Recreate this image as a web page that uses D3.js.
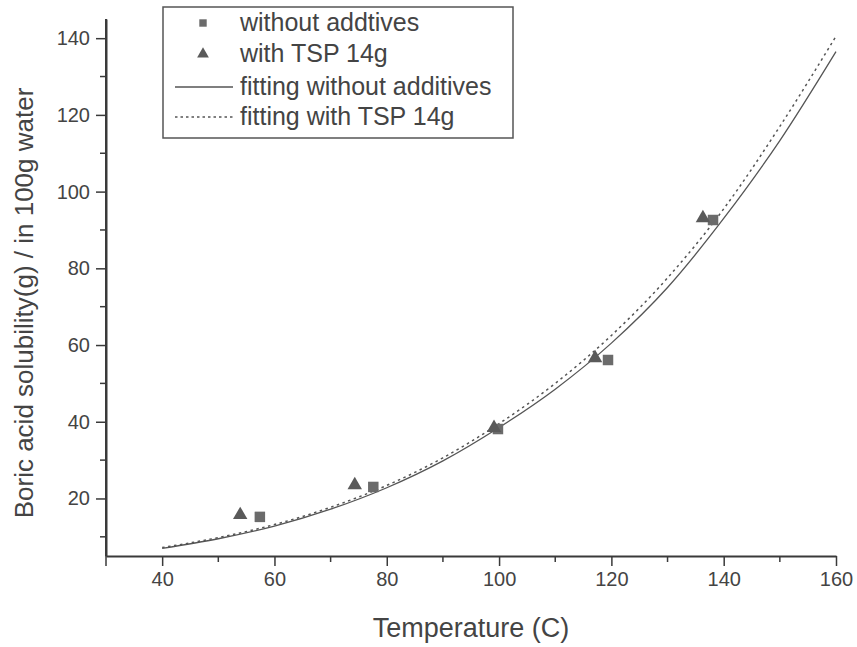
<!DOCTYPE html>
<html>
<head>
<meta charset="utf-8">
<script src="https://cdn.jsdelivr.net/npm/d3@7"></script>
<style>
  body { margin: 0; background: #fff; }
  svg { font-family: "Liberation Sans", Arial, sans-serif; }
</style>
</head>
<body>
<script>
// ----- data -----
const tempNoAdd = [57.4, 77.6, 99.8, 119.4, 138.1];
const solNoAdd = [15.2, 23.0, 38.1, 56.1, 92.6];

const tempTSP = [53.9, 74.3, 99.1, 117.1, 136.3];
const solTSP = [15.7, 23.5, 38.4, 56.6, 93.1];

// fitted curves, sampled every 10 C
const fitTemps = [40, 50, 60, 70, 80, 90, 100, 110, 120, 130, 140, 150, 160];
const fitNoAdd = [7.0, 9.5, 12.8, 17.2, 22.8, 29.8, 38.5, 48.5, 60.5, 75.0, 93.0, 113.3, 136.5];
const fitTSP = [7.2, 9.8, 13.2, 17.7, 23.4, 30.6, 39.5, 50.0, 62.5, 77.5, 95.5, 117.0, 140.5];

const xTicks = [40, 60, 80, 100, 120, 140, 160];
const yTicks = [20, 40, 60, 80, 100, 120, 140];

const legendLabels = ['without addtives', 'with TSP 14g', 'fitting without additives', 'fitting with TSP 14g'];

//  ----- svg -----
const W = 857, H = 647;
const svg = d3.select('body').append('svg')
  .attr('width', W)
  .attr('height', H);

const x = d3.scaleLinear().domain([30, 160]).range([106, 836]);
const y = d3.scaleLinear().domain([5, 145]).range([556, 19]);

const axisColor = '#3a3a3a';
const textColor = '#444';

// ----- axes -----
const xAxis = svg.append('g')
  .attr('transform', `translate(0, ${y(5)})`)
  .call(d3.axisBottom(x).tickValues(xTicks).tickSize(10).tickSizeOuter(0).tickPadding(6));

// minor x ticks
svg.append('g').selectAll('line')
  .data([50, 70, 90, 110, 130, 150])
  .join('line')
  .attr('x1', d => x(d)).attr('x2', d => x(d))
  .attr('y1', y(5)).attr('y2', y(5) + 6)
  .attr('stroke', axisColor).attr('stroke-width', 1.5);
svg.append('line')
  .attr('x1', x(30)).attr('x2', x(30))
  .attr('y1', y(5)).attr('y2', y(5) + 10)
  .attr('stroke', axisColor).attr('stroke-width', 1.5);

const yAxis = svg.append('g')
  .attr('transform', `translate(${x(30)}, 0)`)
  .call(d3.axisLeft(y).tickValues(yTicks).tickSize(10).tickSizeOuter(0).tickPadding(6));

// minor y ticks
svg.append('g').selectAll('line')
  .data([10, 30, 50, 70, 90, 110, 130])
  .join('line')
  .attr('x1', x(30)).attr('x2', x(30) - 6)
  .attr('y1', d => y(d)).attr('y2', d => y(d))
  .attr('stroke', axisColor).attr('stroke-width', 1.5);

[xAxis, yAxis].forEach(g => {
  g.select('.domain').attr('stroke', axisColor).attr('stroke-width', 2);
  g.selectAll('.tick line').attr('stroke', axisColor).attr('stroke-width', 1.5);
  g.selectAll('.tick text')
    .attr('fill', textColor)
    .style('font-size', '20px')
    .style('font-family', '"Liberation Sans", Arial, sans-serif');
});
svg.append('line')
  .attr('x1', x(30)).attr('x2', x(30))
  .attr('y1', 19).attr('y2', 556)
  .attr('stroke', axisColor).attr('stroke-width', 2);

// axis titles
svg.append('text')
  .attr('x', 471).attr('y', 637)
  .attr('text-anchor', 'middle')
  .attr('fill', textColor)
  .style('font-size', '27px')
  .text('Temperature (C)');

svg.append('text')
  .attr('transform', 'translate(33, 303) rotate(-90)')
  .attr('text-anchor', 'middle')
  .attr('fill', textColor)
  .style('font-size', '26px')
  .text('Boric acid solubility(g) / in 100g water');

// ----- fitted lines -----
const line = d3.line()
  .x(d => x(d[0]))
  .y(d => y(d[1]))
  .curve(d3.curveMonotoneX);

svg.append('path')
  .datum(fitTemps.map((t, i) => [t, fitNoAdd[i]]))
  .attr('d', line)
  .attr('fill', 'none')
  .attr('stroke', '#555')
  .attr('stroke-width', 1.3);

svg.append('path')
  .datum(fitTemps.map((t, i) => [t, fitTSP[i]]))
  .attr('d', line)
  .attr('fill', 'none')
  .attr('stroke', '#555')
  .attr('stroke-width', 1.5)
  .attr('stroke-dasharray', '2.5,3.5');

// ----- markers -----
const sq = d3.symbol().type(d3.symbolSquare).size(110);
const tri = d3.symbol().type(d3.symbolTriangle).size(90);

svg.append('g').selectAll('path')
  .data(tempNoAdd.map((t, i) => [t, solNoAdd[i]]))
  .join('path')
  .attr('transform', d => `translate(${x(d[0])}, ${y(d[1])})`)
  .attr('d', sq)
  .attr('fill', '#6b6b6b');

svg.append('g').selectAll('path')
  .data(tempTSP.map((t, i) => [t, solTSP[i]]))
  .join('path')
  .attr('transform', d => `translate(${x(d[0])}, ${y(d[1])})`)
  .attr('d', tri)
  .attr('fill', '#5a5a5a');

// ----- legend -----
const legend = svg.append('g');
legend.append('rect')
  .attr('x', 163).attr('y', 7)
  .attr('width', 350).attr('height', 131)
  .attr('fill', '#fff')
  .attr('stroke', '#555')
  .attr('stroke-width', 1.5);

const rowY = [23, 54, 87, 117];
legend.append('path')
  .attr('transform', `translate(203, ${rowY[0]})`)
  .attr('d', d3.symbol().type(d3.symbolSquare).size(55))
  .attr('fill', '#6b6b6b');
legend.append('path')
  .attr('transform', `translate(203, ${rowY[1]})`)
  .attr('d', d3.symbol().type(d3.symbolTriangle).size(60))
  .attr('fill', '#5a5a5a');
legend.append('line')
  .attr('x1', 175).attr('x2', 233)
  .attr('y1', rowY[2]).attr('y2', rowY[2])
  .attr('stroke', '#555').attr('stroke-width', 1.3);
legend.append('line')
  .attr('x1', 175).attr('x2', 233)
  .attr('y1', rowY[3]).attr('y2', rowY[3])
  .attr('stroke', '#555').attr('stroke-width', 1.3)
  .attr('stroke-dasharray', '2.5,3');

legend.selectAll('text.lab')
  .data(legendLabels)
  .join('text')
  .attr('class', 'lab')
  .attr('x', 240)
  .attr('y', (d, i) => rowY[i] + 8)
  .attr('fill', textColor)
  .style('font-size', '25px')
  .text(d => d);
</script>
</body>
</html>
